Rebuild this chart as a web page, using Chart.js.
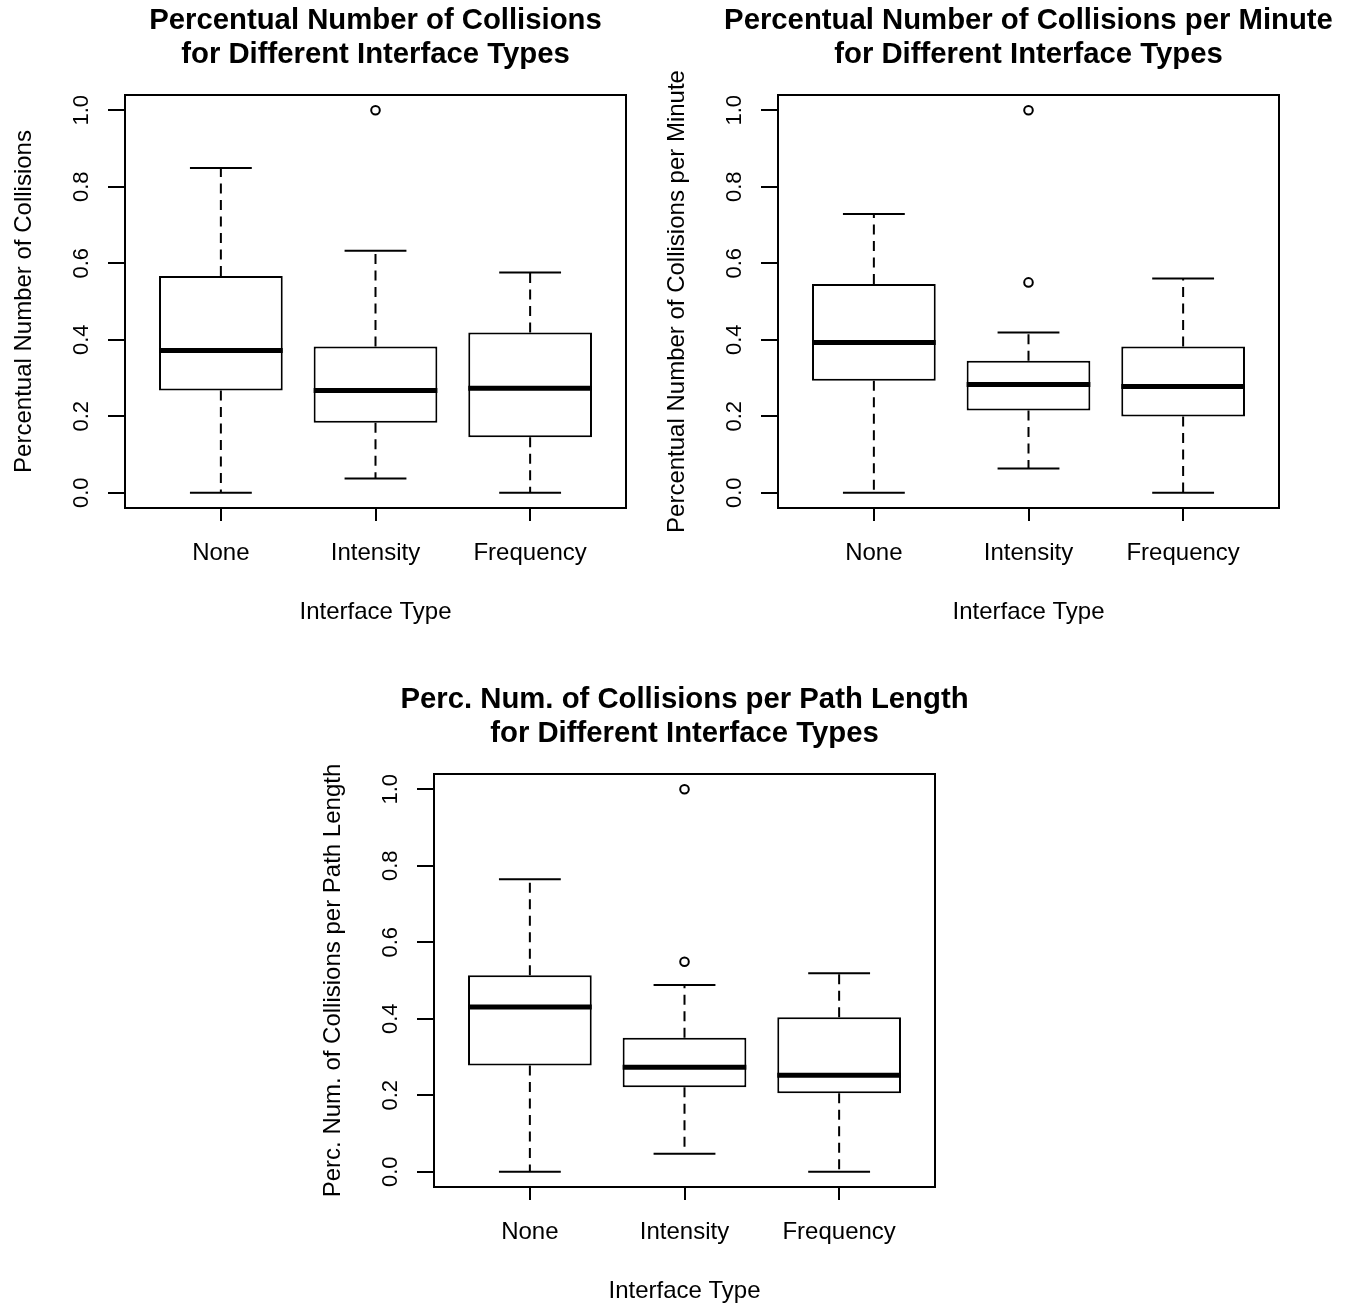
<!DOCTYPE html>
<html>
<head>
<meta charset="utf-8">
<script src="https://cdn.jsdelivr.net/npm/chart.js@4.4.1/dist/chart.umd.min.js"></script>
<style>
  html, body { margin: 0; padding: 0; background: #ffffff; overflow: hidden; width: 1353px; height: 1303px; }
  canvas { position: absolute; }
</style>
</head>
<body>
<canvas id="c1" width="751" height="630" style="left:0px; top:0px; width:751px; height:630px;"></canvas>
<canvas id="c2" width="751" height="630" style="left:653px; top:0px; width:751px; height:630px;"></canvas>
<canvas id="c3" width="751" height="630" style="left:309px; top:679px; width:751px; height:630px;"></canvas>
<script>
// ---------- data ----------
const categories = ['None', 'Intensity', 'Frequency'];
const yTicks = [0.0, 0.2, 0.4, 0.6, 0.8, 1.0];
const xTitle = 'Interface Type';

// Chart 1: Percentual Number of Collisions
const title1 = ['Percentual Number of Collisions', 'for Different Interface Types'];
const yTitle1 = 'Percentual Number of Collisions';
const min1 = [0.000, 0.037, 0.000];
const q1_1 = [0.267, 0.183, 0.145];
const med1 = [0.372, 0.267, 0.273];
const q3_1 = [0.567, 0.382, 0.419];
const max1 = [0.849, 0.633, 0.576];
const out1 = [[], [1.0], []];

// Chart 2: Percentual Number of Collisions per Minute
const title2 = ['Percentual Number of Collisions per Minute', 'for Different Interface Types'];
const yTitle2 = 'Percentual Number of Collisions per Minute';
const min2 = [0.000, 0.063, 0.000];
const q1_2 = [0.293, 0.215, 0.199];
const med2 = [0.393, 0.283, 0.278];
const q3_2 = [0.546, 0.345, 0.382];
const max2 = [0.729, 0.419, 0.560];
const out2 = [[], [1.0, 0.55], []];

// Chart 3: Perc. Num. of Collisions per Path Length
const title3 = ['Perc. Num. of Collisions per Path Length', 'for Different Interface Types'];
const yTitle3 = 'Perc. Num. of Collisions per Path Length';
const min3 = [0.000, 0.047, 0.000];
const q1_3 = [0.278, 0.221, 0.205];
const med3 = [0.431, 0.273, 0.252];
const q3_3 = [0.514, 0.350, 0.404];
const max3 = [0.765, 0.488, 0.519];
const out3 = [[], [1.0, 0.549], []];

// ---------- rendering ----------
const FONT = "'Liberation Sans', Arial, Helvetica, sans-serif";
Chart.defaults.font.family = FONT;
Chart.defaults.color = '#000000';

function boxPlugin(mins, q1, med, q3, maxs) {
  return {
    id: 'rboxplot',
    afterDatasetsDraw(chart) {
      const ctx = chart.ctx;
      const ys = chart.scales.y;
      const meta = chart.getDatasetMeta(0);
      ctx.save();
      ctx.strokeStyle = '#000000';
      ctx.lineCap = 'butt';
      meta.data.forEach((bar, i) => {
        const x = bar.x, w = bar.width;
        const pMin = ys.getPixelForValue(mins[i]);
        const pQ1 = ys.getPixelForValue(q1[i]);
        const pMed = ys.getPixelForValue(med[i]);
        const pQ3 = ys.getPixelForValue(q3[i]);
        const pMax = ys.getPixelForValue(maxs[i]);
        // dashed whiskers
        ctx.lineWidth = 2;
        ctx.setLineDash([10, 6.5]);
        ctx.beginPath(); ctx.moveTo(x, pQ3); ctx.lineTo(x, pMax); ctx.stroke();
        ctx.beginPath(); ctx.moveTo(x, pQ1); ctx.lineTo(x, pMin); ctx.stroke();
        // staples
        ctx.setLineDash([]);
        ctx.beginPath();
        ctx.moveTo(x - w / 4, pMax); ctx.lineTo(x + w / 4, pMax);
        ctx.moveTo(x - w / 4, pMin); ctx.lineTo(x + w / 4, pMin);
        ctx.stroke();
        // median
        ctx.lineWidth = 5;
        ctx.beginPath(); ctx.moveTo(x - w / 2, pMed); ctx.lineTo(x + w / 2, pMed); ctx.stroke();
      });
      // plot frame
      const a = chart.chartArea;
      ctx.lineWidth = 2;
      ctx.strokeRect(a.left, a.top, a.right - a.left, a.bottom - a.top);
      ctx.restore();
    }
  };
}

function makeChart(id, titleLines, yTitle, mins, q1, med, q3, maxs, outliers) {
  const boxData = categories.map((c, i) => ({ x: i + 1, y: [q1[i], q3[i]] }));
  const outData = [];
  outliers.forEach((arr, i) => arr.forEach(v => outData.push({ x: i + 1, y: v })));
  return new Chart(document.getElementById(id), {
    type: 'bar',
    data: {
      datasets: [
        {
          type: 'bar',
          data: boxData,
          backgroundColor: '#ffffff',
          borderColor: '#000000',
          borderWidth: 2,
          borderSkipped: false,
          categoryPercentage: 1.0,
          barPercentage: 0.8
        },
        {
          type: 'scatter',
          data: outData,
          pointStyle: 'circle',
          pointRadius: 4.3,
          pointBorderWidth: 2,
          pointBackgroundColor: 'rgba(0,0,0,0)',
          pointBorderColor: '#000000',
          borderColor: '#000000',
          backgroundColor: 'rgba(0,0,0,0)'
        }
      ]
    },
    options: {
      responsive: false,
      animation: false,
      devicePixelRatio: 1,
      events: [],
      layout: { padding: 0 },
      plugins: {
        legend: { display: false },
        tooltip: { enabled: false },
        title: {
          display: true,
          text: titleLines,
          color: '#000000',
          font: { family: FONT, size: 29.3, weight: 'bold', lineHeight: 34 / 29.3 },
          padding: { top: 3.5, bottom: 23.5 }
        }
      },
      scales: {
        x: {
          type: 'linear',
          offset: false,
          min: 0.38,
          max: 3.62,
          afterBuildTicks: s => { s.ticks = categories.map((c, i) => ({ value: i + 1 })); },
          afterFit: s => { s.height = 122; },
          grid: { offset: false, drawOnChartArea: false, drawTicks: true, tickLength: 13, color: '#000000', lineWidth: 2 },
          border: { display: false },
          ticks: {
            autoSkip: false, maxRotation: 0, minRotation: 0, padding: 18, color: '#000000',
            font: { family: FONT, size: 24 },
            callback: v => categories[Math.round(v) - 1]
          },
          title: {
            display: true, text: xTitle, color: '#000000',
            font: { family: FONT, size: 24, lineHeight: 1.2 },
            padding: { top: 0, bottom: 3.2 }
          }
        },
        y: {
          type: 'linear',
          position: 'left',
          min: -0.04,
          max: 1.04,
          afterBuildTicks: s => { s.ticks = yTicks.map(v => ({ value: v })); },
          afterFit: s => { s.width = 125; },
          grid: { drawOnChartArea: false, drawTicks: true, tickLength: 17, color: '#000000', lineWidth: 2 },
          border: { display: false },
          ticks: {
            autoSkip: false, minRotation: 90, maxRotation: 90, crossAlign: 'center', padding: 10.7,
            color: '#000000', font: { family: FONT, size: 22 },
            callback: v => Number(v).toFixed(1)
          },
          title: {
            display: true, text: yTitle, color: '#000000',
            font: { family: FONT, size: 24, lineHeight: 1.2 },
            padding: { top: 9.6, bottom: 0 }
          }
        },
        yr: {
          type: 'linear',
          position: 'right',
          display: true,
          min: -0.04,
          max: 1.04,
          grid: { display: false },
          border: { display: false },
          ticks: { display: false },
          title: { display: false },
          afterFit: s => { s.width = 125; }
        }
      }
    },
    plugins: [boxPlugin(mins, q1, med, q3, maxs)]
  });
}

makeChart('c1', title1, yTitle1, min1, q1_1, med1, q3_1, max1, out1);
makeChart('c2', title2, yTitle2, min2, q1_2, med2, q3_2, max2, out2);
makeChart('c3', title3, yTitle3, min3, q1_3, med3, q3_3, max3, out3);
</script>
</body>
</html>
